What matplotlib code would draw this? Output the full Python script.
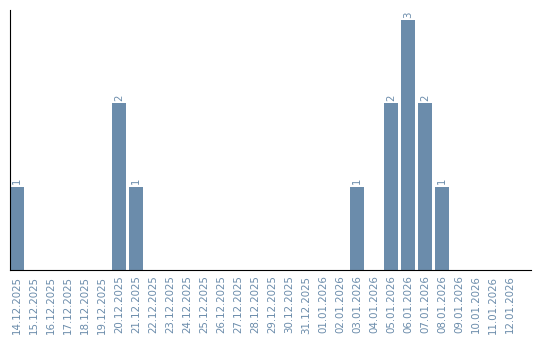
import matplotlib
matplotlib.use('Agg')
import matplotlib.pyplot as plt

# dates from the x axis
dates = ['14.12.2025', '15.12.2025', '16.12.2025', '17.12.2025', '18.12.2025',
         '19.12.2025', '20.12.2025', '21.12.2025', '22.12.2025', '23.12.2025',
         '24.12.2025', '25.12.2025', '26.12.2025', '27.12.2025', '28.12.2025',
         '29.12.2025', '30.12.2025', '31.12.2025', '01.01.2026', '02.01.2026',
         '03.01.2026', '04.01.2026', '05.01.2026', '06.01.2026', '07.01.2026',
         '08.01.2026', '09.01.2026', '10.01.2026', '11.01.2026', '12.01.2026']
counts = [1, 0, 0, 0, 0, 0, 2, 1, 0, 0,
          0, 0, 0, 0, 0, 0, 0, 0, 0, 0,
          1, 0, 2, 3, 2, 1, 0, 0, 0, 0]

bar_color = '#6b8cab'

fig = plt.figure(figsize=(5.4, 3.4), dpi=100)
ax = fig.add_axes([10 / 540, 70 / 340, 521 / 540, 260 / 340])

x = list(range(len(dates)))
bars = ax.bar(x, counts, width=0.82, color=bar_color)

# value labels above the non-zero bars
for bar, val in zip(bars, counts):
    if val > 0:
        ax.text(bar.get_x() + bar.get_width() / 2, bar.get_height() + 0.03,
                str(val), ha='center', va='bottom', rotation=90,
                fontsize=7.3, color=bar_color)

ax.set_xlim(-0.41, 30.24)
ax.set_ylim(0, 3.12)
ax.set_xticks(x)
ax.set_xticklabels(dates, rotation=90, fontsize=7.4, color=bar_color)
ax.set_yticks([])
ax.tick_params(axis='x', length=0, pad=4)

for side in ['top', 'right']:
    ax.spines[side].set_visible(False)
ax.spines['left'].set_color('black')
ax.spines['bottom'].set_color('black')

fig.savefig('out.png', dpi=100)
